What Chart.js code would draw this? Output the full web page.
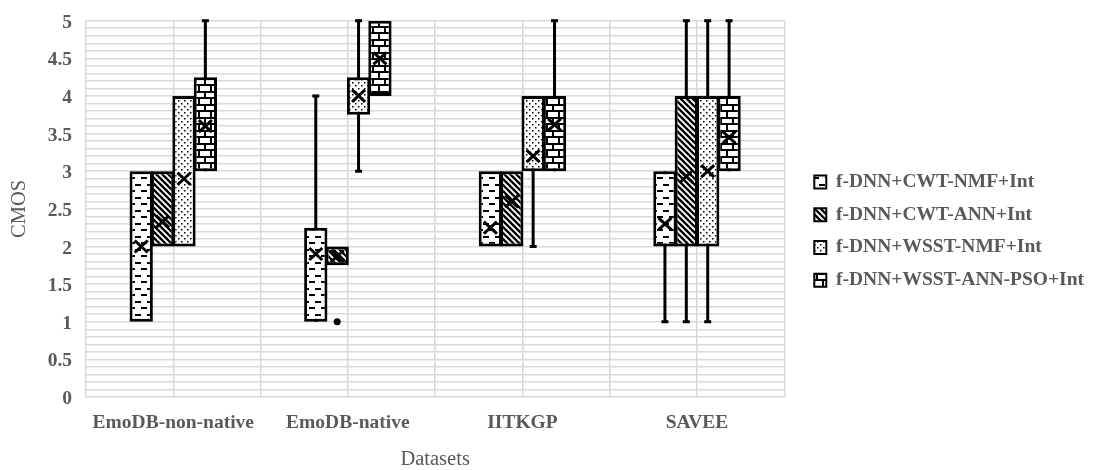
<!DOCTYPE html>
<html>
<head>
<meta charset="utf-8">
<title>CMOS by dataset</title>
<script src="https://cdn.jsdelivr.net/npm/chart.js@4.4.1/dist/chart.umd.min.js"></script>
<style>
  html, body { margin: 0; padding: 0; background: #ffffff; }
  #wrap { width: 1094px; height: 470px; }
</style>
</head>
<body>
<div id="wrap"><canvas id="chart" width="1094" height="470"></canvas></div>
<script>
// ---- data ----
const categories = ['EmoDB-non-native', 'EmoDB-native', 'IITKGP', 'SAVEE'];
const seriesNames = ['f-DNN+CWT-NMF+Int', 'f-DNN+CWT-ANN+Int', 'f-DNN+WSST-NMF+Int', 'f-DNN+WSST-ANN-PSO+Int'];

// one row per method, one column per dataset
const lowerWhisker = [
  [1, 1, 2, 1],
  [2, 1.75, 2, 1],
  [2, 3, 2, 1],
  [3, 4, 3, 3]
];
const firstQuartile = [
  [1, 1, 2, 2],
  [2, 1.75, 2, 2],
  [2, 3.75, 3, 2],
  [3, 4, 3, 3]
];
const thirdQuartile = [
  [3, 2.25, 3, 3],
  [3, 2, 3, 4],
  [4, 4.25, 4, 4],
  [4.25, 5, 4, 4]
];
const upperWhisker = [
  [3, 4, 3, 3],
  [3, 2, 3, 5],
  [4, 5, 4, 5],
  [5, 5, 5, 5]
];
const means = [
  [2.0, 1.9, 2.25, 2.3],
  [2.33, 1.87, 2.6, 2.93],
  [2.9, 4.0, 3.2, 3.0],
  [3.6, 4.5, 3.62, 3.45]
];
const outliers = [
  [[], [], [], []],
  [[], [1], [], []],
  [[], [], [], []],
  [[], [], [], []]
];
const yTickLabels = ['0', '0.5', '1', '1.5', '2', '2.5', '3', '3.5', '4', '4.5', '5'];

// ---- styling ----
const FONT = "'Liberation Serif', 'Times New Roman', serif";
const TEXT = '#595959';
const GRID = '#d9d9d9';
Chart.defaults.font.family = FONT;

const canvas = document.getElementById('chart');
const mainCtx = canvas.getContext('2d');

function makePattern(w, h, draw) {
  const c = document.createElement('canvas');
  c.width = w; c.height = h;
  const g = c.getContext('2d');
  g.fillStyle = '#ffffff';
  g.fillRect(0, 0, w, h);
  g.fillStyle = '#000000';
  g.strokeStyle = '#000000';
  draw(g, w, h);
  return mainCtx.createPattern(c, 'repeat');
}

const fills = [
  // dashed horizontal
  makePattern(12, 13, g => {
    g.fillRect(3, 2, 6, 2);
    g.fillRect(9, 8, 3, 2);
    g.fillRect(0, 8, 3, 2);
  }),
  // wide downward diagonal
  makePattern(6, 6, g => {
    g.lineWidth = 2.3;
    g.beginPath();
    for (const k of [-6, 0, 6]) { g.moveTo(k - 1, -1); g.lineTo(k + 7, 7); }
    g.stroke();
  }),
  // small dots
  makePattern(6, 6, g => {
    g.fillRect(1, 1, 1.5, 1.5);
    g.fillRect(4, 4, 1.5, 1.5);
  }),
  // horizontal brick
  makePattern(12, 13, g => {
    g.fillRect(0, 0, 12, 2);
    g.fillRect(0, 6, 12, 2);
    g.fillRect(0, 2, 2, 4);
    g.fillRect(6, 8, 2, 5);
  })
];

// ---- datasets: boxes (Q1..Q3) and whisker stems share a slot per method ----
const boxSets = seriesNames.map((name, s) => ({
  label: name,
  data: firstQuartile[s].map((q1, c) => [q1, thirdQuartile[s][c]]),
  backgroundColor: fills[s],
  borderColor: '#000000',
  borderWidth: 3,
  borderSkipped: false,
  stack: 'm' + s,
  order: 0,
  categoryPercentage: 0.49,
  barPercentage: 1.09
}));

const whiskerSets = seriesNames.map((name, s) => ({
  label: name + ' whiskers',
  data: lowerWhisker[s].map((lo, c) =>
    (lo < firstQuartile[s][c] || upperWhisker[s][c] > thirdQuartile[s][c])
      ? [lo, upperWhisker[s][c]] : null),
  backgroundColor: '#000000',
  borderWidth: 0,
  stack: 'm' + s,
  order: 1,
  categoryPercentage: 0.49,
  barPercentage: 1,
  maxBarThickness: 3
}));

// whisker caps, outlier dots and mean crosses
const boxMarks = {
  id: 'boxMarks',
  afterDatasetsDraw(chart) {
    const ctx = chart.ctx;
    const yScale = chart.scales.y;
    ctx.save();
    ctx.fillStyle = '#000000';
    ctx.strokeStyle = '#000000';
    seriesNames.forEach((_, s) => {
      chart.getDatasetMeta(s).data.forEach((bar, c) => {
        const x = bar.x;
        if (lowerWhisker[s][c] < firstQuartile[s][c]) {
          const py = yScale.getPixelForValue(lowerWhisker[s][c]);
          ctx.fillRect(x - 3.5, py - 1.5, 7, 3);
        }
        if (upperWhisker[s][c] > thirdQuartile[s][c]) {
          const py = yScale.getPixelForValue(upperWhisker[s][c]);
          ctx.fillRect(x - 3.5, py - 1.5, 7, 3);
        }
        outliers[s][c].forEach(v => {
          ctx.beginPath();
          ctx.arc(x, yScale.getPixelForValue(v), 3.5, 0, Math.PI * 2);
          ctx.fill();
        });
        const my = yScale.getPixelForValue(means[s][c]);
        ctx.lineWidth = 3;
        ctx.beginPath();
        ctx.moveTo(x - 6.5, my - 6); ctx.lineTo(x + 6.5, my + 6);
        ctx.moveTo(x + 6.5, my - 6); ctx.lineTo(x - 6.5, my + 6);
        ctx.stroke();
      });
    });
    ctx.restore();
  }
};

function noEdgePadding(s) {
  s.paddingTop = 0; s.paddingBottom = 0; s.paddingLeft = 0; s.paddingRight = 0;
}

new Chart(canvas, {
  type: 'bar',
  data: {
    labels: categories,
    datasets: [...boxSets, ...whiskerSets]
  },
  options: {
    responsive: false,
    animation: false,
    devicePixelRatio: 1,
    layout: { padding: { top: 20.7, right: 0, bottom: 0, left: 0 } },
    scales: {
      x: {
        type: 'category',
        offset: true,
        afterFit: s => { s.height = 73; noEdgePadding(s); },
        border: { display: false },
        grid: { offset: true, color: GRID, lineWidth: 1.5, drawTicks: false },
        ticks: {
          padding: 14,
          color: TEXT,
          font: { family: FONT, size: 19.5, weight: 'bold' }
        },
        title: {
          display: true,
          text: 'Datasets',
          color: TEXT,
          font: { family: FONT, size: 20.5, weight: 'normal' },
          padding: { top: 0, bottom: -2 }
        }
      },
      x2: {
        type: 'category',
        position: 'bottom',
        offset: true,
        afterFit: s => { s.height = 0; noEdgePadding(s); },
        border: { display: false },
        grid: { offset: false, color: GRID, lineWidth: 1.5, drawTicks: false },
        ticks: { display: false },
        title: { display: false }
      },
      y: {
        type: 'linear',
        min: 0,
        max: 5,
        stacked: false,
        afterFit: s => { s.width = 86; noEdgePadding(s); },
        border: { display: false },
        grid: { color: GRID, lineWidth: 1.5, drawTicks: false },
        ticks: {
          stepSize: 0.1,
          autoSkip: false,
          padding: 14,
          labelOffset: 2,
          color: TEXT,
          font: { family: FONT, size: 19.5, weight: 'bold' },
          callback: v => {
            const t = String(v);
            return yTickLabels.includes(t) ? t : '';
          }
        },
        title: {
          display: true,
          text: 'CMOS',
          color: TEXT,
          font: { family: FONT, size: 20.5, weight: 'normal' },
          padding: { top: 7.7, bottom: 0 }
        }
      },
      y2: {
        type: 'linear',
        position: 'right',
        display: true,
        afterFit: s => { s.width = 16.8; noEdgePadding(s); },
        border: { display: false },
        grid: { display: false },
        ticks: { display: false }
      }
    },
    plugins: {
      tooltip: { enabled: false },
      legend: {
        position: 'right',
        align: 'start',
        maxWidth: 320,
        title: { display: true, text: '', padding: { top: 0, bottom: 124 } },
        labels: {
          boxWidth: 12,
          boxHeight: 13,
          padding: 13.2,
          color: TEXT,
          font: { family: FONT, size: 19.5, weight: 'bold' },
          generateLabels(chart) {
            return Chart.defaults.plugins.legend.labels.generateLabels(chart)
              .filter(item => item.datasetIndex < seriesNames.length)
              .map(item => Object.assign(item, { lineWidth: 2, strokeStyle: '#000000' }));
          }
        }
      }
    }
  },
  plugins: [boxMarks]
});
</script>
</body>
</html>
